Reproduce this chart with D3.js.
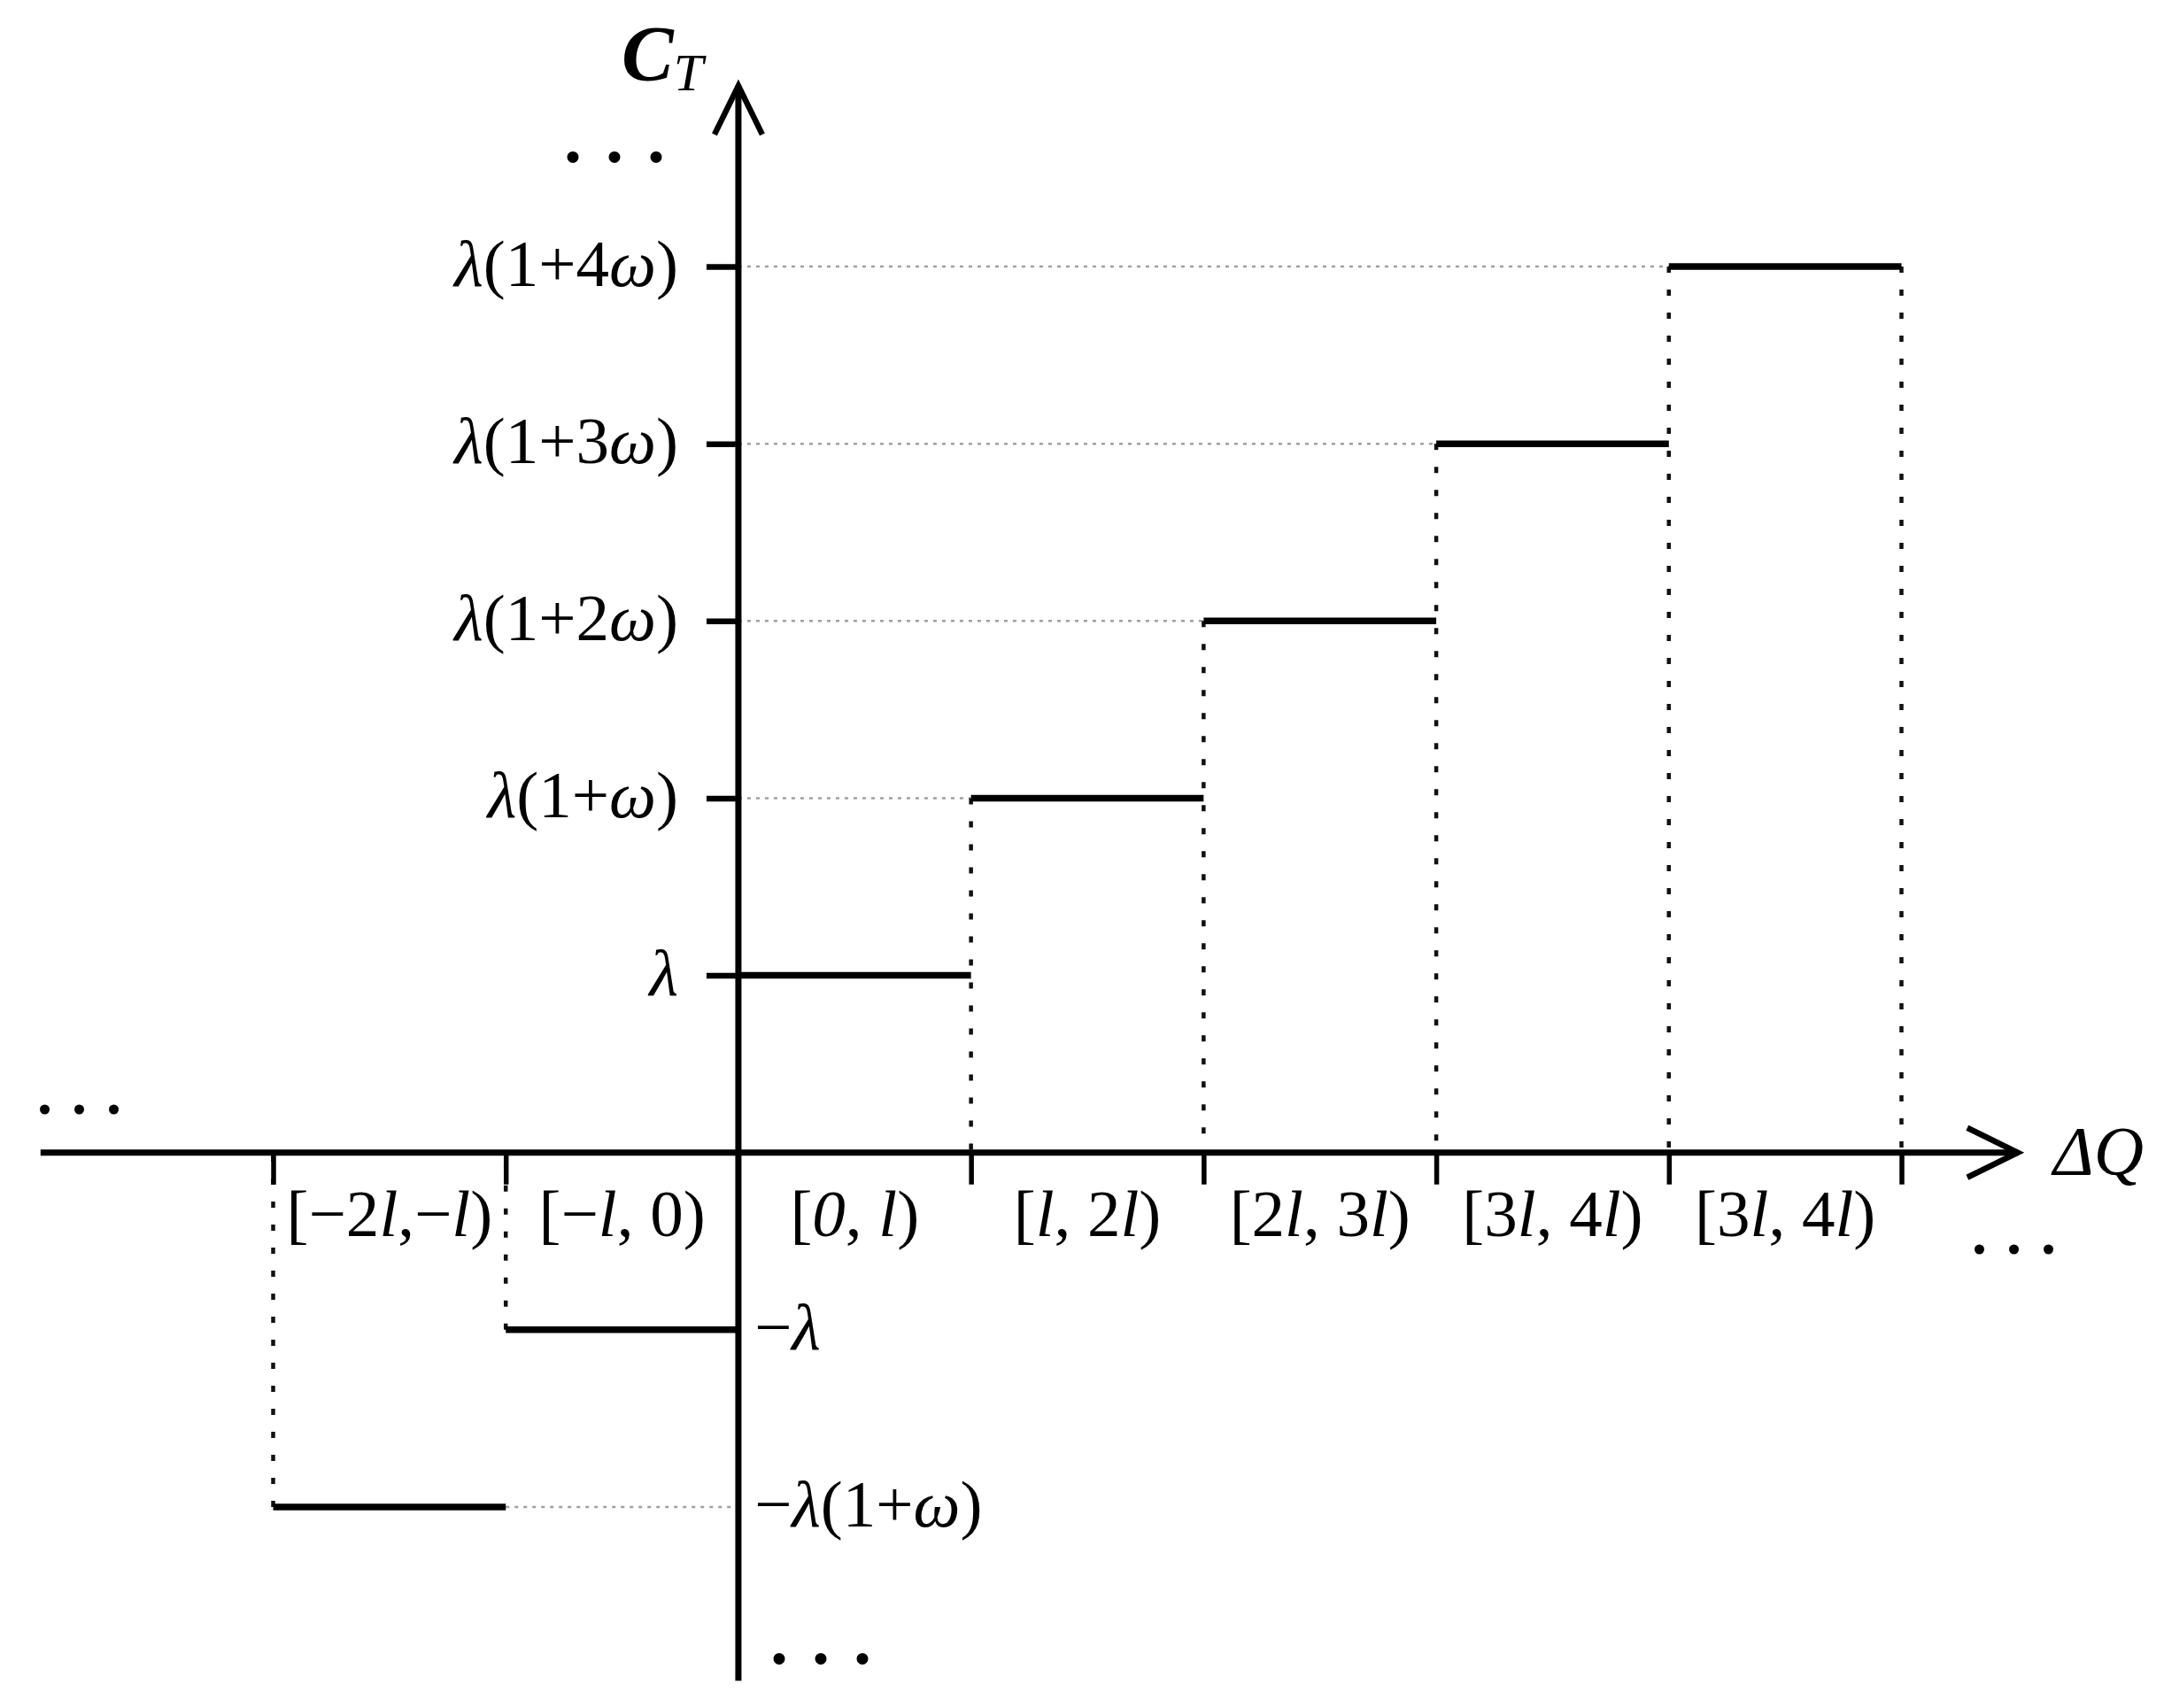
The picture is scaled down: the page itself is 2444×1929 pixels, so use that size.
<!DOCTYPE html>
<html><head><meta charset="utf-8">
<script src="https://cdn.jsdelivr.net/npm/d3@7"></script>
<style>
html,body{margin:0;padding:0;background:#fff;}
svg{display:block;}
text{font-family:"Liberation Serif","Times New Roman",serif;fill:#000;}
</style>
</head><body>
<svg id="chart" width="2444" height="1929"></svg>
<script>
// ---- data ----
const stepStarts = [-2, -1, 0, 1, 2, 3, 4];          // interval start (in units of l)
const stepValues = [-2, -1, 1, 2, 3, 4, 5];           // C_T level (λ=1, each ω adds 1)
const intervalLabels = ["[−2{l},−{l})", "[−{l}, 0)", "[{0}, {l})", "[{l}, 2{l})", "[2{l}, 3{l})", "[3{l}, 4{l})", "[3{l}, 4{l})"];
const xTickValues = [-2, -1, 1, 2, 3, 4, 5];
const yTickValues = [1, 2, 3, 4, 5, -1, -2];
const yTickLabels = ["{λ}", "{λ}(1+{ω})", "{λ}(1+2{ω})", "{λ}(1+3{ω})", "{λ}(1+4{ω})", "−{λ}", "−{λ}(1+{ω})"];
const xAxisExtent = [-3.0, 5.5];
const yAxisExtent = [-2.98, 6.02];
const xAxisTitle = "ΔQ";
const yAxisTitle = ["C", "T"];

// ---- drawing ----
const svg = d3.select("#chart");
const x = d3.scaleLinear().domain([-2, 5]).range([308.5, 2147.5]);
const y = d3.scaleLinear().domain([-2, 5]).range([1702, 301]);
const x0 = x(0), y0 = y(0);
const FS = 75;

function richText(sel, str) {
  const parts = str.split(/(\{[^}]*\})/).filter(s => s.length);
  parts.forEach(p => {
    if (p[0] === "{") sel.append("tspan").attr("font-style", "italic").text(p.slice(1, -1));
    else sel.append("tspan").text(p);
  });
}

// horizontal gray dotted guides from y-axis to steps
const steps = stepStarts.map((s, i) => ({start: s, end: s + 1, v: stepValues[i]}));
steps.forEach(d => {
  let seg = null;
  if (d.start > 0) seg = [0, d.start];
  else if (d.end < 0) seg = [d.end, 0];
  if (seg) svg.append("line")
    .attr("x1", x(seg[0])).attr("x2", x(seg[1]))
    .attr("y1", y(d.v)).attr("y2", y(d.v))
    .attr("stroke", "#a0a0a0").attr("stroke-width", 2.5)
    .attr("stroke-dasharray", "4,6");
});

// vertical dotted guides
const vGuides = steps.filter(d => d.start !== 0).map(d => ({xv: d.start, v: d.v}));
const last = steps[steps.length - 1];
vGuides.push({xv: last.end, v: last.v});
vGuides.forEach(d => {
  svg.append("line")
    .attr("x1", x(d.xv)).attr("x2", x(d.xv))
    .attr("y1", y(d.v)).attr("y2", y0)
    .attr("stroke", "#111").attr("stroke-width", 4.5)
    .attr("stroke-dasharray", "7,19");
});

// step lines
svg.selectAll("line.step").data(steps).enter().append("line")
  .attr("class", "step")
  .attr("x1", d => x(d.start)).attr("x2", d => x(d.end))
  .attr("y1", d => y(d.v)).attr("y2", d => y(d.v))
  .attr("stroke", "#000").attr("stroke-width", 7.5).attr("stroke-linecap", "butt");

// x axis ticks (below)
const gx = svg.append("g").attr("transform", `translate(0,${y0})`)
  .call(d3.axisBottom(x).tickValues(xTickValues).tickSize(36).tickFormat(""));
gx.select(".domain").remove();
gx.selectAll(".tick line").attr("stroke", "#000").attr("stroke-width", 5.5);

// y axis ticks (left, positive only)
const gy = svg.append("g").attr("transform", `translate(${x0},0)`)
  .call(d3.axisLeft(y).tickValues(yTickValues.filter(v => v > 0)).tickSize(36).tickFormat(""));
gy.select(".domain").remove();
gy.selectAll(".tick line").attr("stroke", "#000").attr("stroke-width", 6.5);

// axis lines
svg.append("line").attr("x1", x(xAxisExtent[0])).attr("x2", x(xAxisExtent[1]))
  .attr("y1", y0).attr("y2", y0).attr("stroke", "#000").attr("stroke-width", 7);
svg.append("line").attr("x1", x0).attr("x2", x0)
  .attr("y1", y(yAxisExtent[0])).attr("y2", y(yAxisExtent[1])).attr("stroke", "#000").attr("stroke-width", 7);

// arrowheads
const xt = x(xAxisExtent[1]), yt = y(yAxisExtent[1]);
svg.append("path").attr("d", `M${xt-57},${y0-28}L${xt},${y0}L${xt-57},${y0+28}`)
  .attr("fill", "none").attr("stroke", "#000").attr("stroke-width", 6.5);
svg.append("path").attr("d", `M${x0-27},${yt+55}L${x0},${yt}L${x0+27},${yt+55}`)
  .attr("fill", "none").attr("stroke", "#000").attr("stroke-width", 6.5);

// interval labels
intervalLabels.forEach((lab, i) => {
  const t = svg.append("text")
    .attr("x", x(stepStarts[i] + 0.5)).attr("y", y0 + 94)
    .attr("text-anchor", "middle").attr("font-size", FS);
  richText(t, lab);
});

// y tick labels
yTickValues.forEach((v, i) => {
  const pos = v > 0;
  const t = svg.append("text")
    .attr("x", pos ? x0 - 68 : x0 + 18)
    .attr("y", y(v) + 22)
    .attr("text-anchor", pos ? "end" : "start")
    .attr("font-size", FS);
  richText(t, yTickLabels[i]);
});

// axis titles
svg.append("text").attr("x", 2319).attr("y", y0 + 24)
  .attr("font-size", 78).attr("font-style", "italic").text(xAxisTitle);
const ct = svg.append("text").attr("x", 702).attr("y", 90).attr("font-style", "italic");
ct.append("tspan").attr("font-size", 88).attr("font-weight", "bold").text(yAxisTitle[0]);
ct.append("tspan").attr("font-size", 60).attr("dy", 12).attr("dx", 0).text(yAxisTitle[1]);

// ellipses
function dots(cx, cy, gap, size) {
  svg.append("text").attr("x", cx).attr("y", cy + 6)
    .attr("font-size", size).attr("font-weight", "bold")
    .attr("letter-spacing", gap - size * 0.25)
    .text("...");
}
dots(x0 - 197, 177, 47, 80);
dots(42, 1252, 39, 68);
dots(2227, 1410, 39, 68);
dots(x0 + 36, 1873, 47, 80);
</script>
</body></html>
